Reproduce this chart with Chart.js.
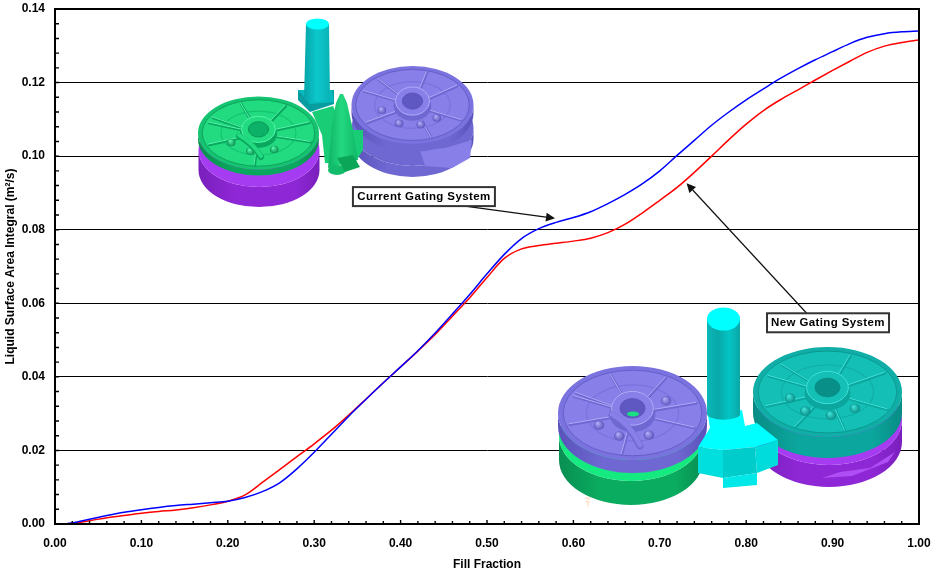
<!DOCTYPE html>
<html lang="en">
<head>
<meta charset="UTF-8">
<title>Liquid Surface Area Integral vs Fill Fraction</title>
<script src="https://cdn.jsdelivr.net/npm/chart.js"></script>
<style>
  html,body{margin:0;padding:0;background:#fff}
  canvas{display:block}
</style>
</head>
<body>
<canvas id="chart" width="933" height="570"></canvas>
<script>
// values
const fillFraction = [0.01,0.02,0.04,0.06,0.08,0.10,0.12,0.14,0.16,0.18,0.20,0.22,0.24,0.26,0.28,0.30,0.32,0.34,0.36,0.38,0.40,0.42,0.44,0.46,0.48,0.50,0.52,0.54,0.56,0.58,0.60,0.62,0.64,0.66,0.68,0.70,0.72,0.74,0.76,0.78,0.80,0.82,0.84,0.86,0.88,0.90,0.92,0.94,0.96,0.98,1.00];
const currentGating = [0,0.0003,0.0013,0.0023,0.0032,0.0039,0.0045,0.0050,0.0054,0.0058,0.0062,0.0072,0.0088,0.0112,0.0150,0.0195,0.0244,0.0293,0.0339,0.0384,0.0427,0.0471,0.0519,0.0571,0.0624,0.0680,0.0733,0.0776,0.0803,0.0820,0.0833,0.0849,0.0871,0.0896,0.0925,0.0960,0.1002,0.1043,0.1084,0.1120,0.1153,0.1183,0.1212,0.1238,0.1262,0.1284,0.1306,0.1323,0.1333,0.1338,0.1340];
const newGating = [0,0.0002,0.0009,0.0017,0.0023,0.0029,0.0034,0.0038,0.0044,0.0052,0.0062,0.0079,0.0113,0.0148,0.0183,0.0218,0.0255,0.0296,0.0340,0.0384,0.0427,0.0470,0.0515,0.0565,0.0615,0.0670,0.0722,0.0748,0.0757,0.0763,0.0769,0.0777,0.0792,0.0815,0.0846,0.0880,0.0915,0.0956,0.1000,0.1045,0.1087,0.1124,0.1154,0.1180,0.1207,0.1233,0.1258,0.1282,0.1299,0.1309,0.1316];
const xTickStep = 0.1, yTickStep = 0.02;
const xMinorStep = 0.02, yMinorStep = 0.004;
const callouts = [
  {text:'Current Gating System', boxX:0.427, boxY:0.0890, w:142, h:19, tailX:0.4745, tailY:0.0864, tipX:0.5787, tipY:0.0831},
  {text:'New Gating System', boxX:0.8947, boxY:0.0547, w:122, h:19, tailX:0.870, tailY:0.0573, tipX:0.7310, tipY:0.0926}
];

const GREEN  = {face:'#22da80', rim:'#14c470', side:'#0aa85e', dark:'#088c4e', light:'#52f7a9', hole:'#0cb066'};
const PURPLE = {face:'#a63cf2', rim:'#9a2fe6', side:'#8e27d6', dark:'#7a1fbc', light:'#c77bff', hole:'#7a20bc'};
const BLUE   = {face:'#8880e8', rim:'#7a72de', side:'#7068d2', dark:'#5a51ba', light:'#b0aaf8', hole:'#6058c2'};
const TEAL   = {face:'#14bfb6', rim:'#10aea6', side:'#0ba69d', dark:'#078c85', light:'#3fe2d9', hole:'#078f88'};

function ell(ctx, cx, cy, rx, ry){ ctx.beginPath(); ctx.ellipse(cx, cy, rx, ry, 0, 0, Math.PI*2); }

// plain cylinder body with a left-right shade
function body(ctx, cx, cy, rx, ry, h, pal){
  const g = ctx.createLinearGradient(cx-rx, 0, cx+rx, 0);
  g.addColorStop(0, pal.dark); g.addColorStop(.3, pal.side); g.addColorStop(.8, pal.side); g.addColorStop(1, pal.dark);
  ctx.fillStyle = g;
  ctx.beginPath();
  ctx.ellipse(cx, cy, rx, ry, 0, Math.PI, 0, true);
  ctx.lineTo(cx+rx, cy+h);
  ctx.ellipse(cx, cy+h, rx, ry, 0, 0, Math.PI);
  ctx.closePath();
  ctx.fill();
}

// a casting seen from above: rim, recessed face, ribs, bosses and a hub
function wheel(ctx, cx, cy, rx, ry, h, pal, ribs, bosses){
  body(ctx, cx, cy, rx, ry, h, pal);
  ell(ctx, cx, cy, rx, ry); ctx.fillStyle = pal.rim; ctx.fill();
  ell(ctx, cx, cy, rx*.93, ry*.91); ctx.fillStyle = pal.face; ctx.fill();
  ctx.strokeStyle = pal.dark; ctx.lineWidth = .7; ctx.stroke();
  ell(ctx, cx, cy, rx*.62, ry*.6); ctx.strokeStyle = pal.rim; ctx.lineWidth = 1.2; ctx.stroke();

  const at = (r, a) => [cx + Math.cos(a)*r*rx, cy + Math.sin(a)*r*ry];
  ctx.lineCap = 'round';
  ribs.forEach(deg => {
    const a = deg*Math.PI/180, p0 = at(.3, a), p1 = at(.88, a);
    ctx.beginPath(); ctx.moveTo(p0[0]+.7, p0[1]+1); ctx.lineTo(p1[0]+.7, p1[1]+1);
    ctx.strokeStyle = pal.side; ctx.lineWidth = 2.6; ctx.stroke();
    ctx.beginPath(); ctx.moveTo(p0[0], p0[1]); ctx.lineTo(p1[0], p1[1]);
    ctx.strokeStyle = pal.light; ctx.lineWidth = 1; ctx.stroke();
  });
  bosses.forEach(deg => {
    const a = deg*Math.PI/180, p = at(.52, a), r = rx*.07;
    const g = ctx.createRadialGradient(p[0]-r*.3, p[1]-r*.4, .5, p[0], p[1], r);
    g.addColorStop(0, pal.light); g.addColorStop(1, pal.dark);
    ell(ctx, p[0], p[1], r, r*.9); ctx.fillStyle = g; ctx.fill();
  });

  // hub
  const hx = cx, hy = cy-ry*.1, hr = rx*.28, hs = ry*.36;
  ell(ctx, hx, hy+hs*.35, hr*1.1, hs*1.05); ctx.fillStyle = pal.side; ctx.fill();
  ell(ctx, hx, hy, hr, hs); ctx.fillStyle = pal.face; ctx.fill();
  ctx.strokeStyle = pal.light; ctx.lineWidth = 1; ctx.stroke();
  ell(ctx, hx, hy, hr*.6, hs*.58); ctx.fillStyle = pal.hole; ctx.fill();
  ctx.strokeStyle = pal.dark; ctx.lineWidth = .8; ctx.stroke();
  ctx.lineCap = 'butt';
}

function poly(ctx, pts, fill){
  ctx.beginPath();
  pts.forEach((p, i) => i ? ctx.lineTo(p[0], p[1]) : ctx.moveTo(p[0], p[1]));
  ctx.closePath();
  ctx.fillStyle = fill; ctx.fill();
}

function sprue(ctx, xTop0, xTop1, yTop, xBot0, xBot1, yBot, ryTop, stops, topCol){
  const g = ctx.createLinearGradient(xBot0, 0, xBot1, 0);
  stops.forEach((c, i) => g.addColorStop(i/(stops.length-1), c));
  poly(ctx, [[xTop0,yTop],[xTop1,yTop],[xBot1,yBot],[xBot0,yBot]], g);
  if(topCol){ ell(ctx, (xTop0+xTop1)/2, yTop, (xTop1-xTop0)/2, ryTop); ctx.fillStyle = topCol; ctx.fill(); }
  ell(ctx, (xBot0+xBot1)/2, yBot, (xBot1-xBot0)/2, ryTop*.5); ctx.fillStyle = g; ctx.fill();
}

function drawCurrentSystem(ctx){
  // rear casting and its lower half
  body(ctx, 412.5, 128, 61, 38, 11, BLUE);
  ell(ctx, 412.5, 128, 61, 38); ctx.fillStyle = BLUE.side; ctx.fill();
  poly(ctx, [[420,150],[445,148],[472,140],[470,158],[452,168],[425,166]], BLUE.face);
  wheel(ctx, 412.5, 105, 61, 39, 8, BLUE, [-130,-75,-35,25,70,150,205], [40,75,115,165]);

  // sprue
  poly(ctx, [[298,90],[334,90],[334,104],[310,112],[298,100]], '#069ca0');
  poly(ctx, [[298,90],[332,90],[334,102],[310,104]], '#08babd');
  sprue(ctx, 306, 329, 24, 304, 330, 99, 5.5, ['#07a4a8','#0cc8cc','#09b2b6'], '#00ffff');

  // front casting on its lower half
  body(ctx, 259, 150, 60.5, 37, 20, PURPLE);
  ell(ctx, 259, 150, 60.5, 37); ctx.fillStyle = PURPLE.face; ctx.fill();
  wheel(ctx, 258.5, 133, 60.5, 36.5, 6, GREEN, [-150,-110,-60,-20,15,95,160,200], [60,105,150]);
  ctx.strokeStyle = GREEN.side; ctx.lineWidth = 6; ctx.lineCap = 'round';
  ctx.beginPath(); ctx.moveTo(239,136); ctx.quadraticCurveTo(253,144,261,157); ctx.stroke();
  ctx.strokeStyle = GREEN.face; ctx.lineWidth = 4;
  ctx.beginPath(); ctx.moveTo(239,135); ctx.quadraticCurveTo(253,143,261,156); ctx.stroke(); ctx.lineCap = 'butt';

  // gate and riser
  poly(ctx, [[312,112],[333,106],[345,130],[363,130],[363,150],[358,158],[345,164],[325,163],[322,135]], '#19cd76');
  const cone = ctx.createLinearGradient(328, 0, 358, 0);
  cone.addColorStop(0, '#0eb364'); cone.addColorStop(.45, '#23d880'); cone.addColorStop(1, '#10b868');
  poly(ctx, [[340,94],[343,94],[347,103],[353,130],[358,160],[328,168],[332,125],[336,103]], cone);
  ell(ctx, 337, 170, 9, 5); ctx.fillStyle = '#12bc6a'; ctx.fill();
  poly(ctx, [[337,158],[353,155],[360,167],[345,172]], '#0ca658');
}

function drawNewSystem(ctx){
  // left casting
  body(ctx, 631, 436, 72, 45, 24, {dark:'#088f52', side:'#0aad60'});
  ell(ctx, 631, 436, 72, 45); ctx.fillStyle = '#15ea80'; ctx.fill();
  wheel(ctx, 632.5, 413, 74.5, 47, 13, BLUE, [-150,-110,-60,-15,20,100,165,205], [65,110,150,-30]);
  ctx.strokeStyle = BLUE.side; ctx.lineWidth = 7; ctx.lineCap = 'round';
  ctx.beginPath(); ctx.moveTo(612,415); ctx.quadraticCurveTo(630,425,640,446); ctx.stroke();
  ctx.strokeStyle = BLUE.face; ctx.lineWidth = 5;
  ctx.beginPath(); ctx.moveTo(612,414); ctx.quadraticCurveTo(630,424,640,445); ctx.stroke(); ctx.lineCap = 'butt';
  ell(ctx, 633, 414, 6, 2.5); ctx.fillStyle = '#19e080'; ctx.fill();

  // right casting
  body(ctx, 829, 420, 73, 45, 22, PURPLE);
  ell(ctx, 829, 420, 73, 45); ctx.fillStyle = PURPLE.face; ctx.fill();
  poly(ctx, [[822,478],[852,476],[888,462],[895,452],[870,468],[840,472]], '#b04ef5');
  wheel(ctx, 827.5, 392, 74.5, 45, 21, TEAL, [-135,-70,-30,25,75,120,160,205], [45,85,125,165]);

  // gate, then the sprue standing on it
  const sprueStops = ['#0bb8b8','#09a8a8','#04c4c4','#0aa8a8'];
  poly(ctx, [[698,447],[710,428],[708,415],[742,410],[745,426],[757,423],[778,440],[755,447],[723,450]], '#00ffff');
  poly(ctx, [[698,447],[723,450],[723,478],[698,473]], '#00dede');
  poly(ctx, [[723,450],[755,447],[757,473],[723,478]], '#00cccc');
  poly(ctx, [[755,447],[778,440],[778,465],[757,473]], '#00dcdc');
  poly(ctx, [[723,478],[757,473],[757,485],[723,488]], '#00e8e8');
  sprue(ctx, 707, 740, 319, 707, 740, 414, 11.5, sprueStops, '#00ffff');

  // small axis triad next to the casting
  ctx.strokeStyle = '#ffd9b8'; ctx.lineWidth = 1;
  ctx.beginPath(); ctx.moveTo(585,498); ctx.lineTo(590,498); ctx.lineTo(586,502); ctx.lineTo(590,502);
  ctx.moveTo(588,502); ctx.lineTo(588,507); ctx.stroke();
}

const castings = {
  id: 'castings',
  beforeDatasetsDraw(chart){
    const ctx = chart.ctx;
    ctx.save();
    drawCurrentSystem(ctx);
    drawNewSystem(ctx);
    ctx.restore();
  }
};

const frame = {
  id: 'frame',
  afterDatasetsDraw(chart){
    const {ctx, chartArea:a, scales:{x, y}} = chart;
    ctx.save();
    ctx.strokeStyle = '#000';
    ctx.lineWidth = 2;
    ctx.beginPath();
    ctx.moveTo(a.left, a.top); ctx.lineTo(a.right, a.top); ctx.lineTo(a.right, a.bottom);
    ctx.lineTo(a.left, a.bottom); ctx.closePath();
    ctx.stroke();

    // inward tick marks
    ctx.lineWidth = 1.4;
    ctx.beginPath();
    for(let i=0; i<=Math.round(x.max/xMinorStep); i++){
      const px = x.getPixelForValue(i*xMinorStep), len = i%5 ? 3 : 4;
      ctx.moveTo(px, a.bottom); ctx.lineTo(px, a.bottom-len);
    }
    for(let i=0; i<=Math.round(y.max/yMinorStep); i++){
      const py = y.getPixelForValue(i*yMinorStep);
      ctx.moveTo(a.left, py); ctx.lineTo(a.left+4, py);
    }
    ctx.stroke();

    // callouts
    callouts.forEach(c => {
      const bx = x.getPixelForValue(c.boxX), by = y.getPixelForValue(c.boxY);
      const tx = x.getPixelForValue(c.tailX), ty = y.getPixelForValue(c.tailY);
      const hx = x.getPixelForValue(c.tipX), hy = y.getPixelForValue(c.tipY);
      const ang = Math.atan2(hy-ty, hx-tx), L = 9, W = 4.5;
      const nx = hx-Math.cos(ang)*L, ny = hy-Math.sin(ang)*L;
      ctx.strokeStyle = '#111'; ctx.lineWidth = 1.2;
      ctx.beginPath(); ctx.moveTo(tx, ty); ctx.lineTo(nx, ny); ctx.stroke();
      ctx.fillStyle = '#111';
      ctx.beginPath(); ctx.moveTo(hx, hy);
      ctx.lineTo(nx-Math.sin(ang)*W, ny+Math.cos(ang)*W);
      ctx.lineTo(nx+Math.sin(ang)*W, ny-Math.cos(ang)*W);
      ctx.closePath(); ctx.fill();

      ctx.fillStyle = '#fff';
      ctx.fillRect(bx-c.w/2, by-c.h/2, c.w, c.h);
      ctx.strokeStyle = '#333'; ctx.lineWidth = 2;
      ctx.strokeRect(bx-c.w/2, by-c.h/2, c.w, c.h);
      ctx.fillStyle = '#000';
      ctx.font = 'bold 11.5px "Liberation Sans", Arial, sans-serif';
      ctx.letterSpacing = '0.38px';
      ctx.textAlign = 'center'; ctx.textBaseline = 'middle';
      ctx.fillText(c.text, bx, by+.5);
    });
    ctx.restore();
  }
};

new Chart(document.getElementById('chart'), {
  type: 'line',
  data: {
    datasets: [
      { label:'Current Gating System', data:fillFraction.map((f,i)=>({x:f, y:currentGating[i]})),
        borderColor:'#0000ff', borderWidth:1.5, pointRadius:0, fill:false, cubicInterpolationMode:'monotone' },
      { label:'New Gating System', data:fillFraction.map((f,i)=>({x:f, y:newGating[i]})),
        borderColor:'#ff0000', borderWidth:1.5, pointRadius:0, fill:false, cubicInterpolationMode:'monotone' }
    ]
  },
  options: {
    responsive:false, devicePixelRatio:1, animation:false,
    layout:{padding:{top:9, right:14, left:0, bottom:0}},
    plugins:{legend:{display:false}, tooltip:{enabled:false}},
    scales:{
      x:{
        type:'linear', min:0, max:1,
        afterFit(s){ s.height = 46; s.paddingRight = 0; s.paddingLeft = 0; },
        grid:{drawOnChartArea:false, drawTicks:false},
        border:{color:'#000', width:2},
        ticks:{stepSize:xTickStep, maxRotation:0, padding:12, color:'#000',
          font:{family:'"Liberation Sans", Arial, sans-serif', size:12, weight:'bold'},
          callback:v=>v.toFixed(2)},
        title:{display:true, text:'Fill Fraction', color:'#000', padding:{top:8, bottom:-2},
          font:{family:'"Liberation Sans", Arial, sans-serif', size:12, weight:'bold'}}
      },
      y:{
        min:0, max:0.14,
        afterFit(s){ s.width = 55; s.paddingTop = 0; s.paddingBottom = 0; },
        grid:{color:'#000', lineWidth:1, drawTicks:false},
        border:{color:'#000', width:2},
        ticks:{stepSize:yTickStep, padding:10, color:'#000',
          font:{family:'"Liberation Sans", Arial, sans-serif', size:12, weight:'bold'},
          callback:v=>v.toFixed(2)},
        title:{display:true, text:'Liquid Surface Area Integral (m²/s)', color:'#000', padding:{top:3, bottom:0},
          font:{family:'"Liberation Sans", Arial, sans-serif', size:12, weight:'bold'}}
      }
    }
  },
  plugins:[castings, frame]
});
</script>
</body>
</html>
